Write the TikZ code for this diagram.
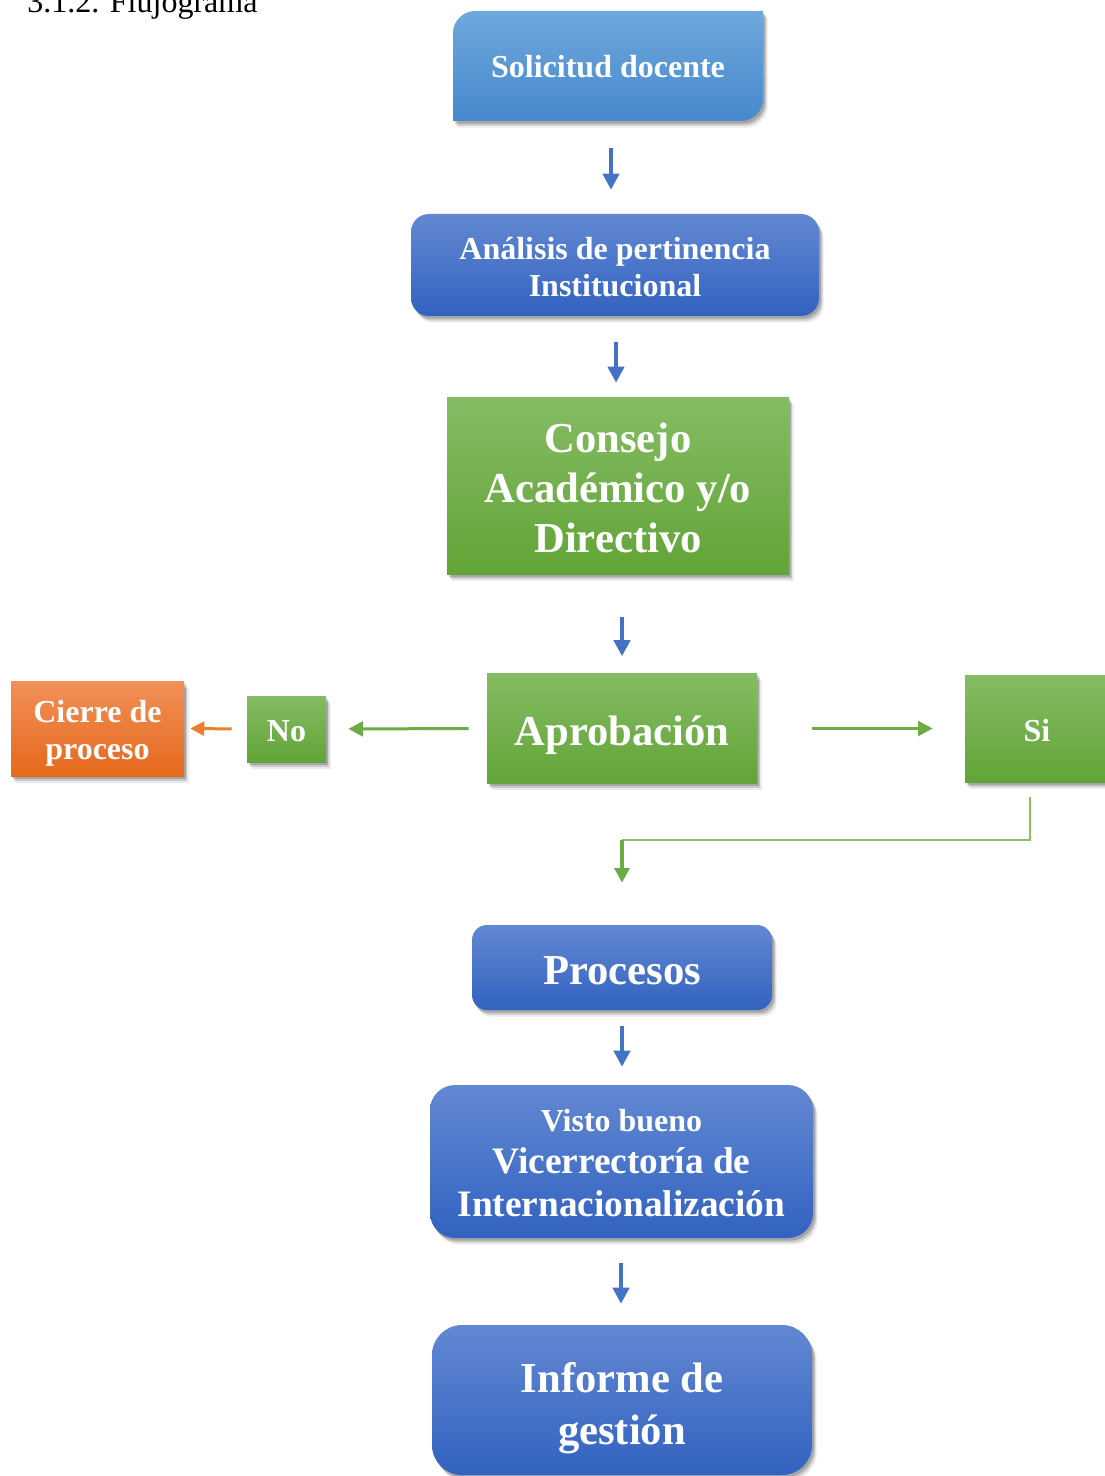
\documentclass[tikz,border=0pt]{standalone}
\usepackage{fontspec}
\setmainfont{Liberation Serif}
\usetikzlibrary{arrows.meta,shadows,calc}
\definecolor{bluetop}{HTML}{6288D2}
\definecolor{bluebot}{HTML}{3262C0}
\definecolor{ltop}{HTML}{6EA8DD}
\definecolor{lbot}{HTML}{4789CD}
\definecolor{gtop}{HTML}{85BC64}
\definecolor{gbot}{HTML}{62A437}
\definecolor{otop}{HTML}{F29058}
\definecolor{obot}{HTML}{E5691C}
\definecolor{arrblue}{HTML}{4472C4}
\definecolor{arrgreen}{HTML}{6DAB45}
\definecolor{arrorange}{HTML}{ED7D31}
\definecolor{linegreen}{HTML}{8CC068}
\begin{document}
\begin{tikzpicture}[x=0.75pt,y=-0.75pt,
  shad/.style={
    drop shadow={shadow xshift=1.5pt,shadow yshift=-2pt,opacity=0.18,fill=black},
    drop shadow={shadow xshift=2.5pt,shadow yshift=-3.5pt,opacity=0.14,fill=black},
    drop shadow={shadow xshift=3.5pt,shadow yshift=-5pt,opacity=0.08,fill=black}},
  box/.style={shad, inner sep=0pt},
  txt/.style={inner sep=0pt, align=center, text=white, font=\bfseries\fontsize{24}{27.75}\selectfont},
  bigtxt/.style={txt, font=\bfseries\fontsize{32}{#1}\selectfont},
  bluebox/.style={box, rounded corners=#1, top color=bluetop, bottom color=bluebot},
  greenbox/.style={box, top color=gtop, bottom color=gbot},
  orangebox/.style={box, top color=otop, bottom color=obot},
  barrow/.style={draw=arrblue, line width=3pt, -{Triangle[length=12pt,width=12pt]}},
  garrow/.style={draw=arrgreen, line width=2.25pt, -{Triangle[length=11pt,width=11pt]}},
  oarrow/.style={draw=arrorange, line width=2.25pt, -{Triangle[length=10.5pt,width=10.5pt]}},
  thinline/.style={draw=linegreen, line width=1.5pt},
]
\useasboundingbox (0,0) rectangle (1105,1476);

% title
\node[anchor=base west, inner sep=0pt, font=\fontsize{24}{28}\selectfont] (title) at (27,13) {3.1.2. Flujograma};

% Solicitud docente (snip/round shape)
\path[shad, top color=ltop, bottom color=lbot]
  (453,121) -- (453,33) .. controls (453,21) and (463,11) .. (475,11) -- (763,11)
  -- (763,99) .. controls (763,111) and (753,121) .. (741,121) -- cycle;
\node[inner sep=0pt, minimum width=232.5pt, minimum height=82.5pt] (sol) at (608,66) {};
\node[txt] (solt) at ([yshift=-0.75pt]sol.center) {Solicitud docente};

% boxes
\node[bluebox=13.5pt, minimum width=306pt, minimum height=76.5pt] (ana) at (615,265) {};
\node[txt] (anat) at ([yshift=-1.5pt]ana.center) {Análisis de pertinencia\\Institucional};

\node[greenbox, minimum width=256.5pt, minimum height=132.75pt] (con) at (618,485.5) {};
\node[bigtxt=37.5] (cont) at ([yshift=-1.5pt]con.center) {Consejo\\Académico y/o\\Directivo};

\node[greenbox, minimum width=202.5pt, minimum height=82.5pt] (apr) at (622,728.5) {};
\node[bigtxt=38] (aprt) at ([yshift=-4.9pt]apr.center) {Aprobación};

\node[greenbox, minimum width=59.25pt, minimum height=49.5pt] (no) at (286.5,729) {};
\node[txt] (not) at ([yshift=-1.5pt]no.center) {No};

\node[orangebox, minimum width=129.75pt, minimum height=71.25pt] (cie) at (97.5,728.5) {};
\node[txt] (ciet) at ([yshift=-3.75pt]cie.center) {Cierre de\\proceso};

\node[greenbox, minimum width=108pt, minimum height=80.25pt] (si) at (1037,728.5) {};
\node[txt] (sit) at ([yshift=-1.5pt]si.center) {Si};

\node[bluebox=11.25pt, minimum width=225pt, minimum height=63.75pt] (pro) at (622,967.5) {};
\node[bigtxt=38] (prot) at ([yshift=-2.25pt]pro.center) {Procesos};

\node[bluebox=18.75pt, minimum width=287.25pt, minimum height=114.75pt] (vis) at (621.5,1161.5) {};
\node[txt, font=\bfseries\fontsize{28}{32}\selectfont] (vist) at ([yshift=-1.1pt]vis.center) {{\fontsize{24}{32}\selectfont Visto bueno}\\Vicerrectoría de\\Internacionalización};

\node[bluebox=22.5pt, minimum width=285pt, minimum height=112.5pt] (inf) at (622,1400) {};
\node[bigtxt=39] (inft) at ([yshift=-6pt]inf.center) {Informe de\\gestión};

% helper x positions
\coordinate (xa) at (611,0);
\coordinate (xb) at (616,0);
\coordinate (xc) at (622,0);
\coordinate (xd) at (1030,0);
\coordinate (xe) at (621,0);
\coordinate (bend) at (622,840);

% connectors
\draw[barrow, shorten <=20.25pt, shorten >=18pt] (sol.south -| xa) -- (ana.north -| xa);
\draw[barrow, shorten <=19.5pt, shorten >=10.5pt] (ana.south -| xb) -- (con.north -| xb);
\draw[barrow, shorten <=32.25pt, shorten >=12.75pt] (con.south -| xc) -- (apr.north -| xc);
\draw[garrow, shorten <=13.5pt, shorten >=16.5pt] (apr.west) -- (no.east);
\draw[oarrow, shorten <=11.25pt, shorten >=4.5pt] (no.west) -- (cie.east);
\draw[garrow, shorten <=41.25pt, shorten >=24pt] (apr.east) -- (si.west);
\draw[thinline, shorten <=11.25pt] (si.south -| xd) |- (bend);
\draw[garrow, line width=3pt, shorten >=31.5pt] (bend) -- (pro.north -| xc);
\draw[barrow, shorten <=12pt, shorten >=13.5pt] (pro.south -| xc) -- (vis.north -| xc);
\draw[barrow, shorten <=18.75pt, shorten >=15.75pt] (vis.south -| xe) -- (inf.north -| xe);
\end{tikzpicture}
\end{document}
